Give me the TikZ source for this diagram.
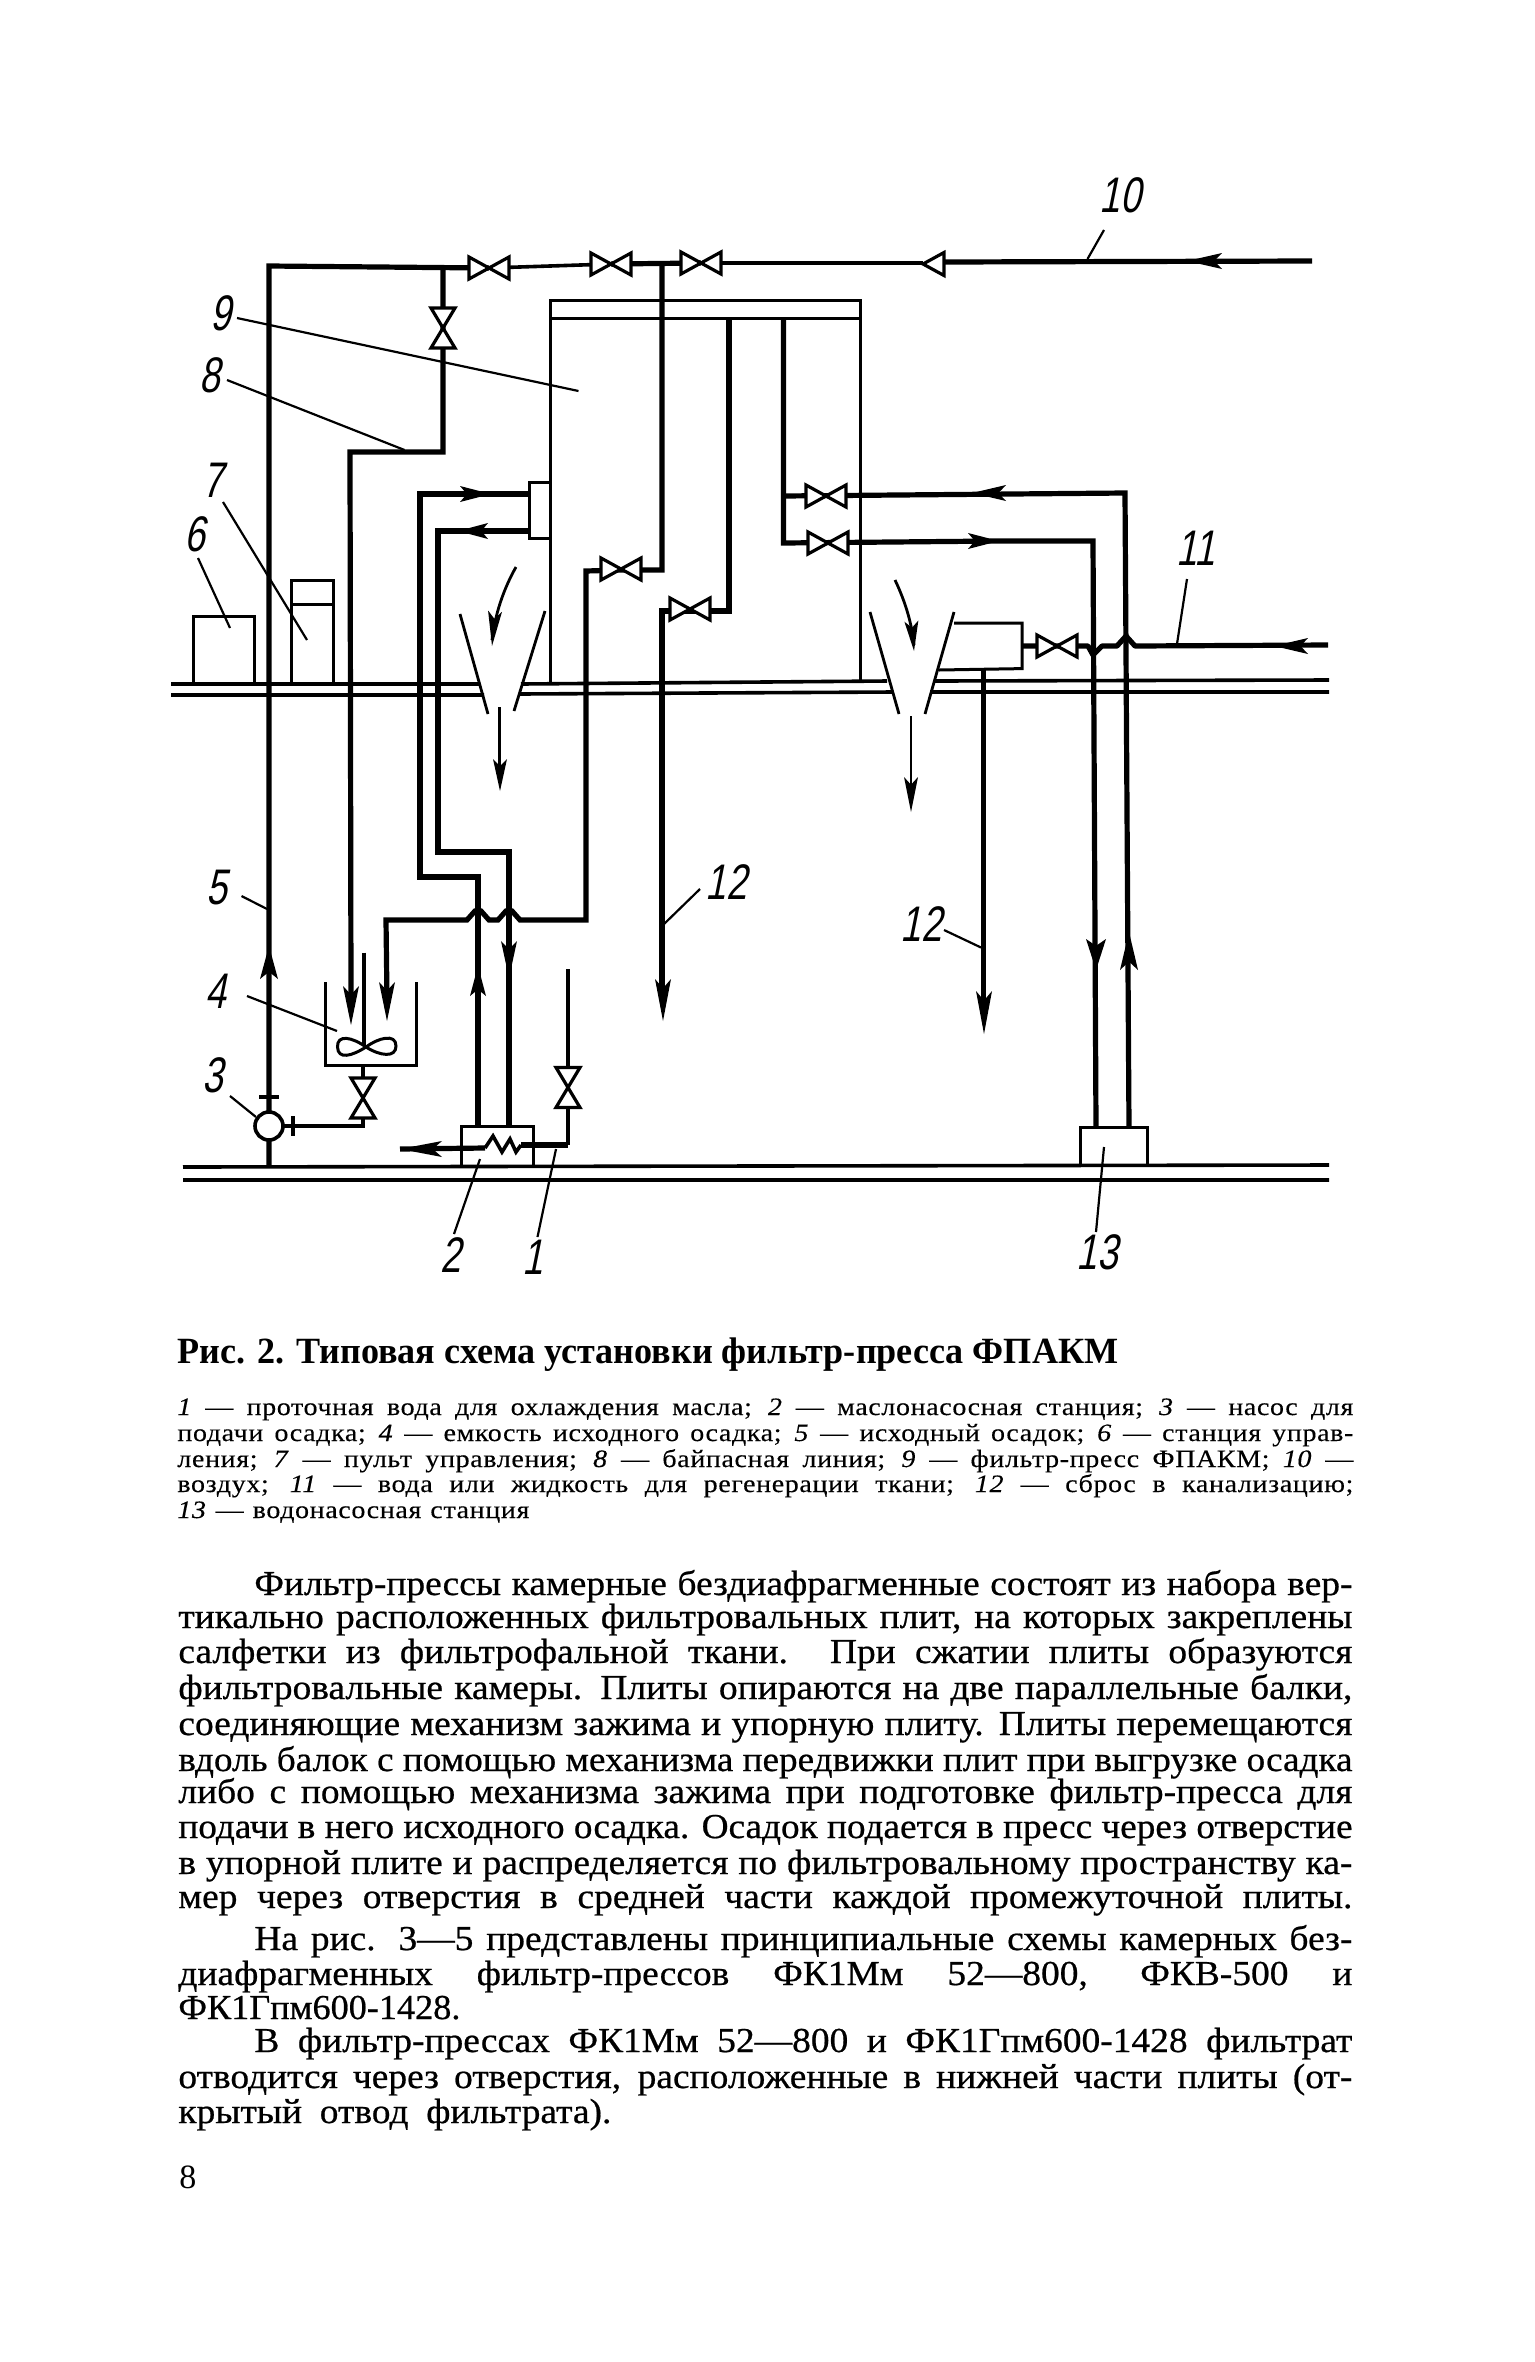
\documentclass[tikz,border=0pt]{standalone}
\usepackage{fontspec}
\usepackage{graphicx}
\setmainfont[FakeStretch=1.07,FakeBold=0.6]{Liberation Serif}
\newfontfamily\numfont[FakeStretch=0.74,FakeSlant=0.2]{Liberation Sans}
\newfontfamily\capfont{Liberation Serif}
\newfontfamily\legfont[FakeStretch=1.12,LetterSpace=2.5,FakeBold=0.3]{Liberation Serif}
\newfontfamily\plainserif{Liberation Serif}
\newsavebox\jbox
\newlength\jw
\newcommand\jline[2]{\setlength\jw{\dimexpr#1pt/2\relax}\sbox\jbox{#2}\ifdim\wd\jbox<\jw\makebox[\jw][s]{#2}\else\resizebox{\jw}{\height}{#2}\fi}
\tikzset{
  pipe/.style={line width=2.6pt,line join=miter},
  pipethin/.style={line width=1.8pt,line join=miter},
  wall/.style={line width=1.5pt,line join=miter},
  floorline/.style={line width=1.8pt},
  leaderline/.style={line width=1.1pt},
  flowline/.style={line width=1.4pt},
  valveshape/.style={line width=1.6pt,fill=white,draw=black,line join=miter},
  numlabel/.style={inner sep=0pt,font=\numfont\fontsize{25}{26}\selectfont},
  textline/.style={inner sep=0pt,anchor=base west},
}
% name, x, y
\newcommand\valveH[3]{\coordinate (#1) at (#2,#3);
  \draw[valveshape] (#2-20,#3-11)--(#2+20,#3+11)--(#2+20,#3-11)--(#2-20,#3+11)--cycle;}
\newcommand\valveV[3]{\coordinate (#1) at (#2,#3);
  \draw[valveshape] (#2-12,#3-20)--(#2+12,#3+20)--(#2-12,#3+20)--(#2+12,#3-20)--cycle;}
% tip x, y, rotation, length, half width
\newcommand\barb[5]{\fill[shift={(#1,#2)},rotate=#3] (0,0)--(#4,#5)--(0.78*#4,0)--(#4,-#5)--cycle;}
% name, label x,y, text, from x,y, to x,y
\newcommand\callout[8]{\node[numlabel] (lab#1) at (#2,#3) {#4};
  \coordinate (a#1) at (#5,#6); \coordinate (b#1) at (#7,#8);
  \draw[leaderline] (a#1)--(b#1);}
\begin{document}
\begin{tikzpicture}[x=.5pt,y=-.5pt]
\useasboundingbox (0,0) rectangle (1535,2362);
\fill[white] (0,0) rectangle (1535,2362);
% floors
\draw[floorline] (171,684)--(480,684) (521,684)--(887,681) (934,681)--(1329,680);
\draw[floorline] (171,695)--(484,695) (519,694)--(893,692) (930,692)--(1329,692);
\draw[floorline] (183,1167)--(1329,1165) (183,1180)--(1329,1180);
% coordinates of valves
\coordinate (cv1) at (489,268); \coordinate (cv2) at (611,264); \coordinate (cv3) at (701,263);
% press
\draw[wall] (550,682)--(550,300)--(860,300)--(860,681);
\draw[wall] (550,318)--(860,318);
\draw[wall] (529,482) rectangle (550,538);
% control boxes
\draw[wall] (193,684)--(193,616)--(254,616)--(254,684);
\draw[wall] (291.5,684)--(291.5,580)--(333,580)--(333,684);
\draw[wall] (291.5,604)--(333,604);
% main air pipe
\draw[pipe] (269,1167)--(269,266)--(cv1);
\draw[pipethin] (cv1)--(cv2);
\draw[pipe] (cv2)--(cv3);
\draw[pipethin] (cv3)--(923,263);
\draw[pipe] (944,262)--(1312,261);
\draw[valveshape] (923,264)--(944,252.5)--(944,275.5)--cycle;
% bypass
\draw[pipe] (443,266)--(443,452)--(350,452)--(351,1000);
% oil loop
\draw[pipe] (529,494)--(420,494)--(420,877)--(478,877)--(478,1126);
\draw[pipe] (529,531)--(438,531)--(438,852)--(509,852)--(509,1126);
% slurry feed line with hops
\draw[pipe] (662,264)--(662,570)--(621,570) (621,570)--(586,571)--(586,920)--(520,920)--(512,911)--(506,911)--(498,920)--(489,920)--(481,911)--(475,911)--(467,920)--(386,920)--(387,1000);
% drain
\draw[pipe] (729,318)--(729,611)--(662,611)--(662,990);
% regeneration
\draw[pipe] (783.5,318)--(783.5,543)--(1000,541)--(1093,541)--(1096,1127);
\draw[pipe] (783.5,496)--(1125,493)--(1129,1127);
% right box
\draw[wall] (954,623)--(1022,623)--(1022,668.6)--(939,670);
\draw[pipe] (983.5,670)--(983.5,1005);
\draw[pipe,line join=round] (1022,646)--(1077,646)--(1088,646)--(1093,655)--(1102,646)--(1117,646)--(1126,636)--(1135,646)--(1328,645);
% funnels
\draw[flowline] (460,614)--(488,714) (545,611)--(514,711);
\draw[flowline] (870,612)--(899,714) (954,612)--(925,714);
\draw[flowline] (516,567) .. controls (503,590) and (495,615) .. (492,640);
\draw[flowline] (895,580) .. controls (906,603) and (912,625) .. (914,645);
\draw[flowline] (499.5,707)--(499.5,775);
\draw[flowline] (911,716)--(911,795);
% tank
\draw[wall] (325,982)--(325,1065)--(416.5,1065)--(416.5,982);
\draw[pipethin] (364,952.5)--(364,1046);
\draw[line width=1.5pt] (366,1047) .. controls (352,1037) and (337,1034) .. (337.5,1047) .. controls (338,1060) and (352,1056) .. (366,1047) .. controls (378,1038) and (396,1033) .. (396,1046) .. controls (396,1058) and (380,1056) .. (366,1047);
% pump and piping
\draw[pipethin] (269,1126)--(363,1126)--(363,1065);
\draw[line width=1.8pt,fill=white] (269,1126) circle (14);
\draw[line width=2.2pt] (259,1097)--(279,1097);
\draw[line width=2.2pt] (293,1116)--(293,1136);
% heat exchanger
\draw[wall] (461,1166)--(461,1126)--(533,1126)--(533,1166);
\draw[pipe] (400,1149)--(485,1148);
\draw[pipethin] (485,1148)--(493,1136)--(502,1152)--(510,1139)--(516,1152)--(521,1145);
\draw[pipe] (521,1145)--(568,1145);
\draw[pipethin] (568,1145)--(568,969);
% pump station 13
\draw[wall] (1080,1166)--(1080,1127)--(1147,1127)--(1147,1166);
% valves
\valveH{v1}{489}{268}
\valveH{v2}{611}{264}
\valveH{v3}{701}{263}
\valveV{v4}{443}{328}
\valveH{v5}{621}{569}
\valveH{v6}{690}{609}
\valveH{v7}{826}{496}
\valveH{v8}{828}{543}
\valveH{v9}{1057}{646}
\valveV{v10}{363}{1098}
\valveV{v11}{568}{1087.5}
% arrowheads
\barb{269}{946}{-90}{33}{9}
\barb{351}{1025}{90}{39}{8}
\barb{387}{1021}{90}{39}{8}
\barb{478}{966}{-90}{30}{8}
\barb{509}{978}{90}{37}{8}
\barb{1096}{970}{90}{31}{10}
\barb{1129}{932}{-90}{38}{9}
\barb{663}{1021}{90}{42}{8}
\barb{984}{1034}{90}{43}{8}
\barb{500}{791}{90}{32}{7}
\barb{911}{812}{90}{35}{7}
\barb{492}{646}{85}{35}{7}
\barb{914}{651}{95}{30}{7}
\barb{491}{494}{180}{31}{8}
\barb{458}{531}{0}{30}{8}
\barb{972}{493}{0}{34}{8}
\barb{999}{541}{180}{31}{8}
\barb{1187}{261}{0}{35}{8}
\barb{1274}{646}{0}{34}{8}
\barb{400}{1149}{0}{42}{8}
% callouts
\callout{one}{533}{1257}{1}{556}{1149}{537.5}{1237}
\callout{two}{451}{1255}{2}{480}{1159}{454}{1234}
\callout{three}{212.5}{1075}{3}{230}{1096}{256}{1117}
\callout{four}{216}{991}{4}{247}{996}{337}{1031}
\callout{five}{217}{887.5}{5}{241.5}{896}{267}{909}
\callout{six}{195}{534}{6}{198}{558}{230}{628}
\callout{seven}{212.5}{480}{7}{223}{502}{307}{640}
\callout{eight}{210}{375}{8}{227}{380}{404.5}{450}
\callout{nine}{220.5}{313}{9}{237}{318}{578.5}{391}
\callout{ten}{1120.5}{195}{10}{1104}{230}{1087.5}{259}
\callout{eleven}{1195.5}{548}{11}{1187}{579}{1177}{644}
\callout{twelveA}{726}{882}{12}{663}{925}{700}{889}
\callout{twelveB}{921}{924}{12}{944}{930}{981}{947.5}
\callout{thirteen}{1097}{1252}{13}{1104}{1147}{1096}{1232}
% caption
\node[textline,font=\capfont\bfseries\fontsize{18.5}{20}\selectfont] (caption) at (177,1363) {\jline{941}{Рис. 2. Типовая схема установки фильтр-пресса ФПАКМ}};
\begin{scope}[every node/.append style={textline,font=\legfont\fontsize{12.5}{14}\selectfont}]
\node (leg1) at (177,1415) {\jline{1176}{\textit{1} — проточная вода для охлаждения масла; \textit{2} — маслонасосная станция; \textit{3} — насос для}};
\node (leg2) at (177,1441) {\jline{1176}{подачи осадка; \textit{4} — емкость исходного осадка; \textit{5} — исходный осадок; \textit{6} — станция управ-}};
\node (leg3) at (177,1467) {\jline{1176}{ления; \textit{7} — пульт управления; \textit{8} — байпасная линия; \textit{9} — фильтр-пресс ФПАКМ; \textit{10} —}};
\node (leg4) at (177,1492) {\jline{1176}{воздух; \textit{11} — вода или жидкость для регенерации ткани; \textit{12} — сброс в канализацию;}};
\node (leg5) at (177,1518) {\jline{352}{\textit{13} — водонасосная станция}};
\end{scope}
\begin{scope}[every node/.append style={textline,font=\fontsize{17.5}{19}\selectfont}]
\node (b1) at (254,1595) {\jline{1098}{Фильтр-прессы камерные бездиафрагменные состоят из набора вер-}};
\node (b2) at (178,1628) {\jline{1174}{тикально расположенных фильтровальных плит, на которых закреплены}};
\node (b3) at (178,1663) {\jline{1174}{салфетки из фильтрофальной ткани. При сжатии плиты образуются}};
\node (b4) at (178,1699) {\jline{1174}{фильтровальные камеры. Плиты опираются на две параллельные балки,}};
\node (b5) at (178,1735) {\jline{1174}{соединяющие механизм зажима и упорную плиту. Плиты перемещаются}};
\node (b6) at (178,1771) {\jline{1174}{вдоль балок с помощью механизма передвижки плит при выгрузке осадка}};
\node (b7) at (178,1803) {\jline{1174}{либо с помощью механизма зажима при подготовке фильтр-пресса для}};
\node (b8) at (178,1838) {\jline{1174}{подачи в него исходного осадка. Осадок подается в пресс через отверстие}};
\node (b9) at (178,1874) {\jline{1174}{в упорной плите и распределяется по фильтровальному пространству ка-}};
\node (b10) at (178,1908) {\jline{1174}{мер через отверстия в средней части каждой промежуточной плиты.}};
\node (b11) at (254,1950) {\jline{1098}{На рис. 3—5 представлены принципиальные схемы камерных без-}};
\node (b12) at (178,1985) {\jline{1174}{диафрагменных фильтр-прессов ФК1Мм 52—800, ФКВ-500 и}};
\node (b13) at (178,2019) {\jline{282}{ФК1Гпм600-1428.}};
\node (b14) at (254,2052) {\jline{1098}{В фильтр-прессах ФК1Мм 52—800 и ФК1Гпм600-1428 фильтрат}};
\node (b15) at (178,2088) {\jline{1174}{отводится через отверстия, расположенные в нижней части плиты (от-}};
\node (b16) at (178,2123) {\jline{433}{крытый отвод фильтрата).}};
\end{scope}
\node[textline,font=\plainserif\fontsize{17}{18}\selectfont] (pagenum) at (179,2188) {8};
\end{tikzpicture}
\end{document}
